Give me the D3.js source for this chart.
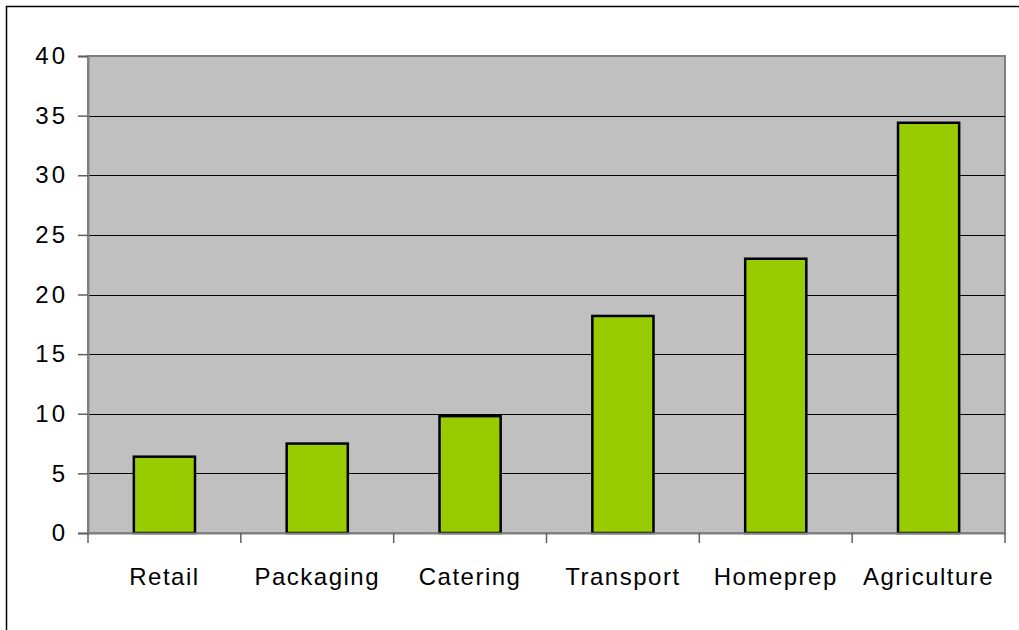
<!DOCTYPE html>
<html>
<head>
<meta charset="utf-8">
<script src="https://cdn.jsdelivr.net/npm/d3@7"></script>
<style>
  body { margin: 0; background: #fff; }
  text { font-family: "Liberation Sans", Arial, sans-serif; fill: #000; }
</style>
</head>
<body>
<svg id="chart"></svg>
<script>
// data
let categories = ['Retail', 'Packaging', 'Catering', 'Transport', 'Homeprep', 'Agriculture']
let values = [6.4, 7.5, 9.8, 18.2, 23.0, 34.4]
let yTicks = [0, 5, 10, 15, 20, 25, 30, 35, 40]

let W = 1019, H = 630
let m = {top: 56, left: 88, right: 14, bottom: 97}

let svg = d3.select('#chart').attr('width', W).attr('height', H)

// outer frame (right/bottom run off the picture)
svg.append('rect')
    .attr('x', 6.5).attr('y', 6.5)
    .attr('width', W + 20).attr('height', H + 20)
    .attr('fill', '#fff').attr('stroke', '#000').attr('stroke-width', 1.5)

let xScale = d3.scaleBand().domain(categories)
    .range([m.left, W - m.right])
    .paddingInner(0.6).paddingOuter(0.3)
let yScale = d3.scaleLinear().domain([0, 40]).range([H - m.bottom, m.top])

// plot area
svg.append('rect')
    .attr('x', m.left).attr('y', m.top)
    .attr('width', W - m.right - m.left).attr('height', H - m.bottom - m.top)
    .attr('fill', '#c0c0c0').attr('stroke', '#808080').attr('stroke-width', 2)

// gridlines
svg.append('g').selectAll('line')
    .data(yTicks.filter(d => d > 0 && d < 40))
    .enter().append('line')
    .attr('x1', m.left).attr('x2', W - m.right)
    .attr('y1', d => Math.round(yScale(d)) + 0.5).attr('y2', d => Math.round(yScale(d)) + 0.5)
    .attr('stroke', '#000').attr('stroke-width', 1)

// bars
svg.selectAll('.bar')
    .data(values)
    .enter().append('rect')
    .attr('class', 'bar')
    .attr('x', (d, i) => xScale(categories[i]))
    .attr('width', xScale.bandwidth())
    .attr('y', d => yScale(d))
    .attr('height', d => yScale(0) - yScale(d))
    .attr('fill', '#99cc00')
    .attr('stroke', '#000').attr('stroke-width', 2.5)

// y axis
let yAxis = d3.axisLeft(yScale).tickValues(yTicks).tickSize(10).tickPadding(10)
let gy = svg.append('g')
    .attr('transform', `translate(${m.left}, 0)`)
    .call(yAxis)
gy.select('.domain').attr('stroke', '#808080').attr('stroke-width', 2)
gy.selectAll('.tick line').attr('stroke', '#606060').attr('stroke-width', 1.5)
gy.selectAll('.tick text').style('font-size', '24px').style('letter-spacing', '3px').attr('fill', '#000')

// x axis, ticks on band edges
let xAxis = d3.axisBottom(xScale).tickSize(0).tickPadding(35)
let gx = svg.append('g')
    .attr('transform', `translate(0, ${H - m.bottom})`)
    .call(xAxis)
gx.select('.domain').attr('stroke', '#808080').attr('stroke-width', 2)
gx.selectAll('.tick text').style('font-size', '24px').style('letter-spacing', '1.5px').attr('fill', '#000')

let edges = categories.map(c => xScale(c) - xScale.step() * xScale.paddingInner() / 2)
edges.push(W - m.right)
gx.selectAll('.edge')
    .data(edges)
    .enter().append('line')
    .attr('class', 'edge')
    .attr('x1', d => d).attr('x2', d => d)
    .attr('y1', 0).attr('y2', 10)
    .attr('stroke', '#606060').attr('stroke-width', 1.5)
</script>
</body>
</html>
